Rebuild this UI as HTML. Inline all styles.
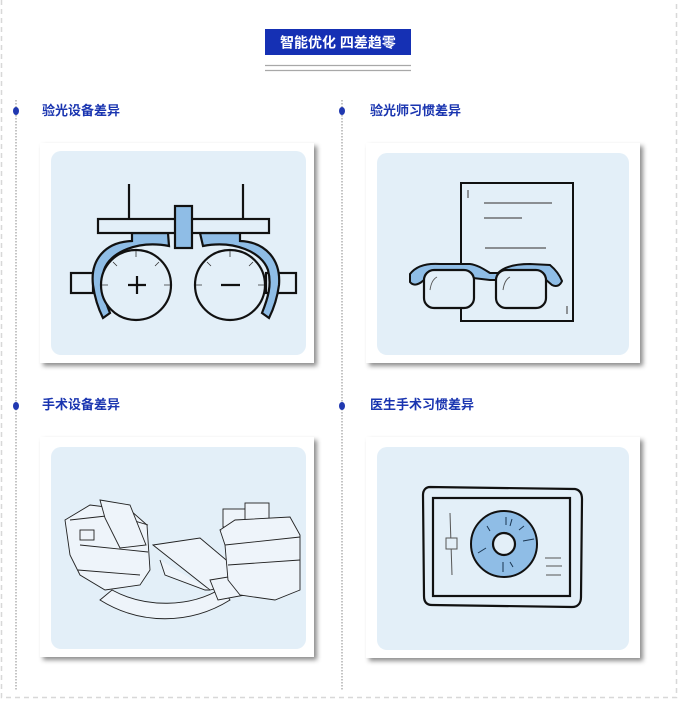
<!DOCTYPE html>
<html><head><meta charset="utf-8"><style>
html,body{margin:0;padding:0;background:#fff;}
body{width:678px;height:701px;overflow:hidden;position:relative;}
svg{position:absolute;left:0;top:0;}
</style></head><body>
<svg width="678" height="701" viewBox="0 0 678 701" xmlns="http://www.w3.org/2000/svg">
<defs>
<filter id="sh" x="-10%" y="-10%" width="125%" height="125%"><feDropShadow dx="3" dy="3" stdDeviation="2.5" flood-color="#000" flood-opacity="0.45"/></filter>
</defs>
<!-- outer dashed frame -->
<path d="M1.5 0 V697.5 H676.5 V0" fill="none" stroke="#d8d8d8" stroke-width="1.5" stroke-dasharray="5,4"/>
<!-- title -->
<rect x="265" y="29" width="146" height="26" fill="#1530b4"/>
<text x="338" y="47.5" text-anchor="middle" font-family="Liberation Sans,'Noto Sans CJK SC',sans-serif" font-size="14" font-weight="bold" fill="#fff">智能优化 四差趋零</text>
<line x1="265" y1="65.5" x2="411" y2="65.5" stroke="#a8a8a8" stroke-width="1.2"/>
<line x1="265" y1="70.5" x2="411" y2="70.5" stroke="#a8a8a8" stroke-width="1.2"/>
<!-- timelines -->
<line x1="16" y1="100" x2="16" y2="690" stroke="#888" stroke-width="1" stroke-dasharray="1.5,1.5"/>
<line x1="342" y1="100" x2="342" y2="690" stroke="#888" stroke-width="1" stroke-dasharray="1.5,1.5"/>
<g fill="#2038b0"><ellipse cx="16" cy="111" rx="3" ry="4"/><ellipse cx="342" cy="111" rx="3" ry="4"/><ellipse cx="16" cy="406" rx="3" ry="4"/><ellipse cx="342" cy="406" rx="3" ry="4"/></g>
<g font-family="Liberation Sans,'Noto Sans CJK SC',sans-serif" font-size="13" font-weight="bold" fill="#1a35b0">
<text x="42" y="115">验光设备差异</text>
<text x="370" y="115">验光师习惯差异</text>
<text x="42" y="409">手术设备差异</text>
<text x="370" y="409">医生手术习惯差异</text>
</g>
<!-- cards -->
<g filter="url(#sh)" fill="#fff">
<rect x="40" y="143" width="274" height="220"/>
<rect x="366" y="143" width="274" height="220"/>
<rect x="40" y="437" width="274" height="220"/>
<rect x="366" y="437" width="274" height="221"/>
</g>
<g fill="#e3eff8">
<rect x="51" y="151" width="255" height="204" rx="10"/>
<rect x="377" y="153" width="252" height="202" rx="10"/>
<rect x="51" y="447" width="255" height="202" rx="10"/>
<rect x="377" y="447" width="252" height="203" rx="10"/>
</g>
<!-- card1: trial frame -->
<g stroke="#111" stroke-width="2.2" fill="none">
<line x1="129" y1="184" x2="129" y2="219"/><line x1="243" y1="184" x2="243" y2="219"/>
<rect x="71" y="273" width="22" height="20" fill="#e3eff8"/>
<rect x="266" y="273" width="30" height="20" fill="#e3eff8"/>
<path d="M132 233 V241 C105 242 90 260 93 285 C95 300 100 312 103 318 L110 313 C104 298 100 285 104 270 C110 252 138 240 169 246 L168 233 Z" fill="#8fbde6"/>
<path d="M240 233 V241 C266 242 281 260 279 285 C277 300 272 312 269 318 L262 313 C268 298 272 285 268 270 C262 252 234 240 203 246 L200 233 Z" fill="#8fbde6"/>
<rect x="98" y="219" width="171" height="14" fill="#e3eff8"/>
<circle cx="136" cy="285" r="35" fill="#e3eff8"/>
<circle cx="230" cy="285" r="35" fill="#e3eff8"/>
<rect x="175" y="206" width="17" height="42" fill="#8fbde6"/>
<path d="M128 285 H146 M137 276 V294 M221 285 H240"/>
</g>
<g stroke="#333" stroke-width="0.8"><path d="M136 251 V257 M113 262 L117 266 M159 262 L155 266 M102 285 H108 M164 285 H170 M230 251 V257 M207 262 L211 266 M253 262 L249 266 M196 285 H202 M258 285 H264"/></g>
<!-- card2: paper & glasses -->
<rect x="461" y="183" width="112" height="138" fill="#e3eff8" stroke="#111" stroke-width="2"/>
<g stroke="#555" stroke-width="1.2"><line x1="484" y1="203" x2="552" y2="203"/><line x1="484" y1="218" x2="522" y2="218"/><line x1="485" y1="248" x2="546" y2="248"/><line x1="468" y1="190" x2="468" y2="198"/><line x1="567" y1="306" x2="567" y2="314"/></g>
<path d="M410 274 C416 266 426 263 440 264 L470 264 C478 265 485 270 490 273 L498 273 C504 267 515 264 530 264 L550 265 C556 270 560 276 562 281 C560 286 556 287 552 285 L545 279 L497 280 L490 280 L473 278 L425 279 C420 284 414 287 410 282 Z" fill="#8fbde6" stroke="#111" stroke-width="2"/>
<g stroke="#111" stroke-width="2.2" fill="#e3eff8">
<rect x="424" y="270" width="50" height="38" rx="10"/>
<rect x="496" y="270" width="50" height="38" rx="10"/>
</g>
<g stroke="#555" stroke-width="0.9" fill="none"><path d="M430 290 C431 283 433 279 437 277 M503 290 C504 283 506 279 510 277"/></g>
<!-- card4: tablet -->
<path d="M430 487 L575 489 C580 490 582 494 582 499 L581 597 C581 603 578 607 572 607 L432 605 C426 605 424 601 424 596 L423 495 C423 490 426 487 430 487 Z" fill="none" stroke="#111" stroke-width="2.2"/>
<rect x="433" y="498" width="137" height="98" fill="none" stroke="#111" stroke-width="2.2"/>
<circle cx="504" cy="544" r="33" fill="#8fbde6" stroke="#111" stroke-width="2"/>
<circle cx="504" cy="544" r="11" fill="#e3eff8" stroke="#111" stroke-width="2.2"/>
<g stroke="#1a3550" stroke-width="1"><path d="M506 517 V525 M512 519 L510 526 M519 530 L524 526 M523 541 L534 539 M487 526 L490 531 M478 553 L486 548 M503 562 V572 M510 562 L513 567"/></g>
<g stroke="#555" stroke-width="1" fill="none"><line x1="450" y1="513" x2="452" y2="575"/><rect x="446" y="538" width="11" height="11" fill="#e3eff8"/><path d="M545 558 H561 M546 566 H562 M546 575 H561"/></g>
<!-- card3: surgery machine sketch -->
<g stroke="#222" stroke-width="0.9" fill="#eef4fa">
<path d="M100 600 C140 625 190 625 230 600 L222 588 C190 608 145 608 112 590 Z"/>
<path d="M65 520 L90 505 L130 510 L147 525 L150 570 L140 585 L105 590 L80 575 L70 555 Z"/>
<path d="M70 520 L115 515 L148 525 M80 545 L148 552 M78 570 L140 575"/>
<path d="M100 500 L130 505 L146 545 L120 548 L105 518 Z"/>
<rect x="80" y="530" width="14" height="10"/>
<path d="M153 545 L200 538 L250 580 L210 590 Z"/>
<path d="M160 560 L165 575 L205 590 L210 590"/>
<path d="M210 580 L240 575 L245 595 L218 600 Z"/>
<path d="M220 530 L255 522 L290 525 L300 535 L300 590 L275 600 L240 595 L228 580 L225 545 Z"/>
<path d="M225 545 L300 537 M228 565 L300 560"/>
<rect x="223" y="509" width="24" height="18"/><rect x="245" y="503" width="24" height="18"/>
<path d="M220 530 L235 520 L290 517 L300 535"/>
</g>
</svg>
</body></html>
